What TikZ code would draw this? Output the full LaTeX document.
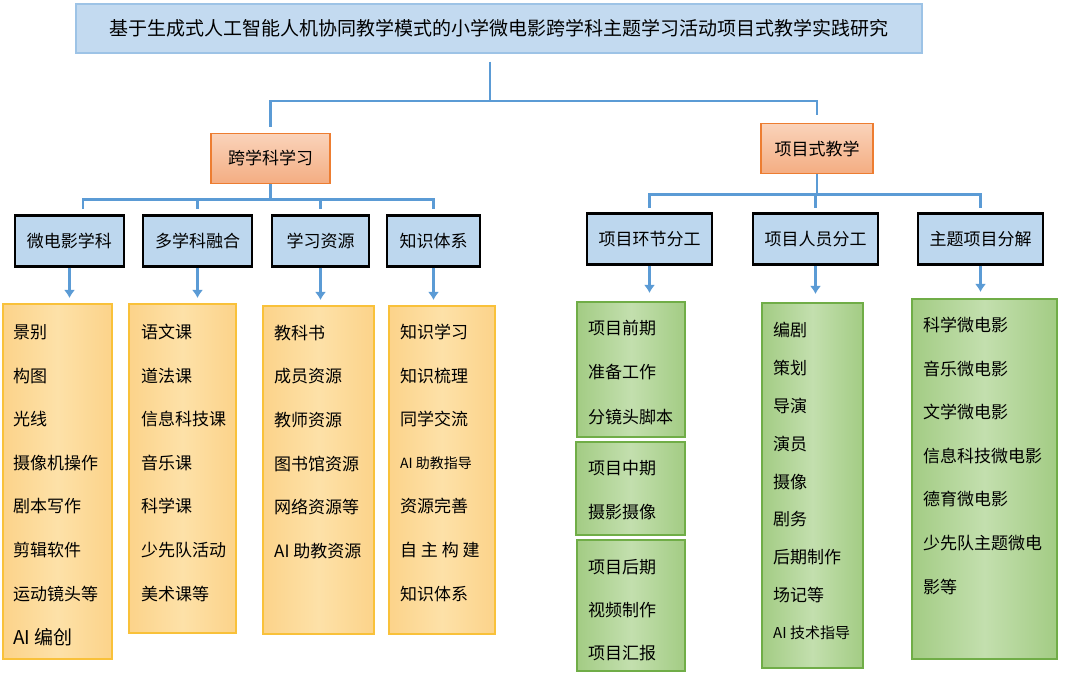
\documentclass[tikz,border=0pt]{standalone}
\usepackage{fontspec}
\setmainfont{Noto Sans CJK SC}
\usetikzlibrary{arrows.meta,positioning,calc}
\definecolor{lineblue}{HTML}{5B9BD5}
\definecolor{titlefill}{HTML}{C3DAF0}
\definecolor{titledraw}{HTML}{9DC3E6}
\definecolor{partfill}{HTML}{BDD7EE}
\definecolor{topicdraw}{HTML}{ED7D31}
\definecolor{topictop}{HTML}{FAD3BA}
\definecolor{topicbot}{HTML}{F4AD82}
\definecolor{ydraw}{HTML}{F9C13A}
\definecolor{yedge}{HTML}{FCD38A}
\definecolor{ymid}{HTML}{FDE1A8}
\definecolor{gdraw}{HTML}{70AD47}
\definecolor{gedge}{HTML}{A3CC84}
\definecolor{gmid}{HTML}{C3DFAE}

\begin{document}
\begin{tikzpicture}[x=1pt, y=-1pt,
    every node/.style={font=\fontsize{17}{20}\selectfont},
    titlebox/.style={draw=titledraw, fill=titlefill, line width=1.5pt, minimum width=846pt, minimum height=49pt, font=\fontsize{19}{22}\selectfont},
    topic/.style={draw=topicdraw, line width=1.8pt, top color=topictop, bottom color=topicbot, minimum height=50pt},
    part/.style={draw=black, line width=2.5pt, fill=partfill, minimum height=51pt},
    ylist/.style={draw=ydraw, line width=2pt, left color=yedge, right color=yedge, middle color=ymid},
    glist/.style={draw=gdraw, line width=2pt, left color=gedge, right color=gedge, middle color=gmid},
    item/.style={anchor=west, inner sep=0pt},
    bus/.style={draw=lineblue, line width=2.5pt},
    arr/.style={bus, -{Latex[length=8pt,width=11pt]}}]
  \useasboundingbox (0,0) rectangle (1080,676);

  \node[titlebox] (T) at (499,28.5) {基于生成式人工智能人机协同教学模式的小学微电影跨学科主题学习活动项目式教学实践研究};
  \node[topic, minimum width=119pt] (A) at (270.5,158.5) {跨学科学习};
  \node[topic, minimum width=112pt] (B) at (817,148.5) {项目式教学};

  \foreach \i/\x/\w/\t in {1/69.5/109/微电影学科, 2/197.5/109/多学科融合, 3/320.5/97/学习资源, 4/433.5/93/知识体系}
    \node[part, minimum width=\w pt] (L\i) at (\x,241) {\t};
  \foreach \i/\x/\t in {1/649.5/项目环节分工, 2/815.5/项目人员分工, 3/980.5/主题项目分解}
    \node[part, minimum width=125pt] (R\i) at (\x,239) {\t};

  \node[ylist, minimum width=109pt, minimum height=355pt] (Y1) at (57.5,481.5) {};
  \node[ylist, minimum width=107pt, minimum height=329pt] (Y2) at (182.5,468.5) {};
  \node[ylist, minimum width=111pt, minimum height=328pt] (Y3) at (318.5,470) {};
  \node[ylist, minimum width=106pt, minimum height=328pt] (Y4) at (442,470) {};
  \node[glist, minimum width=108pt, minimum height=135pt] (G1) at (631,369.5) {};
  \node[glist, minimum width=109pt, minimum height=93pt] (G2) at (630.5,488.5) {};
  \node[glist, minimum width=108pt, minimum height=131pt] (G3) at (631,605.5) {};
  \node[glist, minimum width=101pt, minimum height=365pt] (G4) at (812.5,485.5) {};
  \node[glist, minimum width=145pt, minimum height=360pt] (G5) at (984.5,479) {};

  \foreach \t [count=\k] in {景别, 构图, 光线, 摄像机操作, 剧本写作, 剪辑软件, 运动镜头等, {\fontsize{19}{22}\selectfont AI 编创}}
    \node[item] (Y1-\k) at (13,{332+43.6*(\k-1)}) {\t};
  \foreach \t [count=\k] in {语文课, 道法课, 信息科技课, 音乐课, 科学课, 少先队活动, 美术课等}
    \node[item] (Y2-\k) at (141,{332+43.6*(\k-1)}) {\t};
  \foreach \t [count=\k] in {教科书, 成员资源, 教师资源, 图书馆资源, 网络资源等, AI 助教资源}
    \node[item] (Y3-\k) at (274,{333+43.6*(\k-1)}) {\t};
  \foreach \t [count=\k] in {知识学习, 知识梳理, 同学交流, {\fontsize{14}{16}\selectfont AI 助教指导}, 资源完善, 自 主 构 建, 知识体系}
    \node[item] (Y4-\k) at (400,{332+43.6*(\k-1)}) {\t};

  \foreach \t [count=\k] in {项目前期, 准备工作, 分镜头脚本}
    \node[item] (G1-\k) at (588,{328+44.5*(\k-1)}) {\t};
  \foreach \t [count=\k] in {项目中期, 摄影摄像}
    \node[item] (G2-\k) at (588,{468+44*(\k-1)}) {\t};
  \foreach \t [count=\k] in {项目后期, 视频制作, 项目汇报}
    \node[item] (G3-\k) at (588,{567+43*(\k-1)}) {\t};
  \foreach \t [count=\k] in {编剧, 策划, 导演, 演员, 摄像, 剧务, 后期制作, 场记等, {\fontsize{15}{17}\selectfont AI 技术指导}}
    \node[item] (G4-\k) at (773,{330+37.9*(\k-1)}) {\t};
  \foreach \t [count=\k] in {科学微电影, 音乐微电影, 文学微电影, 信息科技微电影, 德育微电影, 少先队主题微电, 影等}
    \node[item] (G5-\k) at (923,{325+43.6*(\k-1)}) {\t};

  \coordinate (tbus) at (490,101);
  \draw[bus, shorten <=8pt] (T.south -| tbus) -- (tbus);
  \draw[bus, shorten >=6pt] (tbus) -| (A.north);
  \draw[bus, shorten >=8pt] (tbus) -| (B.north);

  \draw[bus] (A.south) -- ++(0,15) coordinate (abus);
  \draw[bus, shorten >=5pt] (abus) -| ([xshift=13.5pt]L1.north);
  \foreach \i in {2,...,4}
    \draw[bus, shorten >=5pt] (abus) -| (L\i.north);
  \draw[bus] (B.south) -- ++(0,20) coordinate (bbus);
  \foreach \i in {1,...,3}
    \draw[bus, shorten >=4pt] (bbus) -| (R\i.north);

  \foreach \i in {1,...,4}
    \draw[arr, shorten >=5pt] (L\i.south) -- (L\i.south |- Y\i.north);
  \draw[arr, shorten >=8pt] (R1.south) -- (R1.south |- G1.north);
  \draw[arr, shorten >=8pt] (R2.south) -- (R2.south |- G4.north);
  \draw[arr, shorten >=6pt] (R3.south) -- (R3.south |- G5.north);
\end{tikzpicture}
\end{document}
